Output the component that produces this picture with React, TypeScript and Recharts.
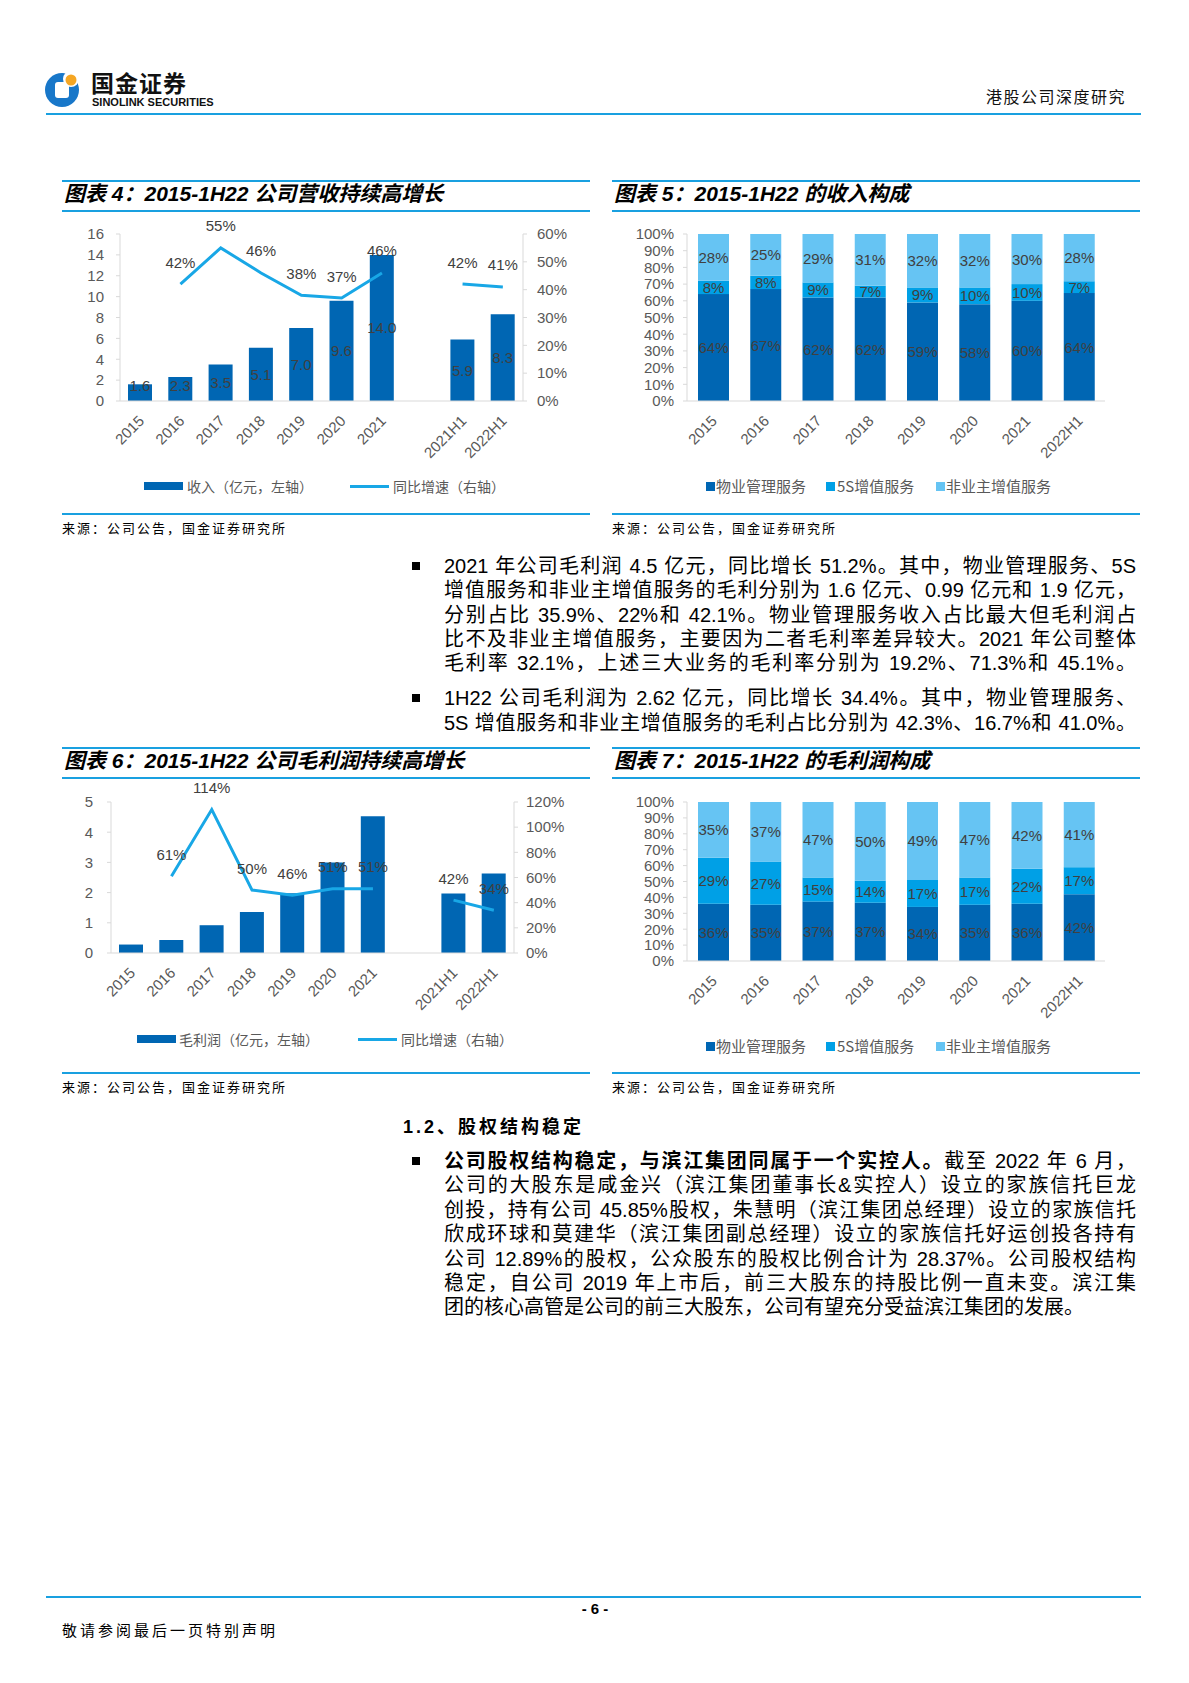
import React from "react"
import { ComposedChart, BarChart, Bar, Line, XAxis, YAxis, LabelList } from "recharts"

const SANS = '"Liberation Sans", Arial, "Noto Sans CJK SC", sans-serif'
const CJK = '"Noto Sans CJK SC", "Liberation Sans", sans-serif'

const BLUE = "#0066B3"
const MID = "#00A0E6"
const LIGHT = "#66C4F3"
const GROWTH = "#18A7E6"
const RULE = "#19A0E0"
const AXIS = "#d9d9d9"
const TICK = "#595959"
const LABEL = "#404040"

// 图表4 / 图表6 categories (blank slot between 2021 and 2021H1)
const growthCats = ["2015", "2016", "2017", "2018", "2019", "2020", "2021", " ", "2021H1", "2022H1"]
const revenue = [1.6, 2.3, 3.5, 5.1, 7.0, 9.6, 14.0, null, 5.9, 8.3]
const revenueYoY = [null, 0.42, 0.55, 0.46, 0.38, 0.37, 0.46, null, 0.42, 0.41]
const grossProfit = [0.28, 0.43, 0.92, 1.36, 1.98, 3.0, 4.53, null, 1.97, 2.63]
const grossProfitYoY = [null, 0.61, 1.14, 0.5, 0.46, 0.51, 0.51, null, 0.42, 0.34]

// 图表5 / 图表7 mix (%)
const mixCats = ["2015", "2016", "2017", "2018", "2019", "2020", "2021", "2022H1"]
const mixNames = ["物业管理服务", "5S增值服务", "非业主增值服务"]
const revPropertyMgmt = [64, 67, 62, 62, 59, 58, 60, 64]
const rev5S = [8, 8, 9, 7, 9, 10, 10, 7]
const revNonOwner = [28, 25, 29, 31, 32, 32, 30, 28]
const gpPropertyMgmt = [36, 35, 37, 37, 34, 35, 36, 42]
const gp5S = [29, 27, 15, 14, 17, 17, 22, 17]
const gpNonOwner = [35, 37, 47, 50, 49, 47, 42, 41]

const revRows = growthCats.map((name, i) => ({ name, v: revenue[i], g: revenueYoY[i] }))
const gpRows = growthCats.map((name, i) => ({ name, v: grossProfit[i], g: grossProfitYoY[i] }))
const revMixRows = mixCats.map((name, i) => ({ name, a: revPropertyMgmt[i], b: rev5S[i], c: revNonOwner[i] }))
const gpMixRows = mixCats.map((name, i) => ({ name, a: gpPropertyMgmt[i], b: gp5S[i], c: gpNonOwner[i] }))

const pct = (v: number) => `${Math.round(v * 100)}%`

function AngledTick(props: any) {
  const { x, y, payload } = props
  const ax = x + 1
  const ay = y + 17
  return (
    <text
      x={ax}
      y={ay}
      transform={`rotate(-45 ${ax} ${ay})`}
      textAnchor="end"
      dominantBaseline="central"
      fontSize={15}
      fill={TICK}
      fontFamily={SANS}
    >
      {payload.value}
    </text>
  )
}

// label drawn above a line point
const topLabel = (vals: (number | null)[], lift: number) => (p: any) => {
  const v = p.index != null ? vals[p.index] : p.value
  if (v == null) return null
  const x = p.viewBox?.x ?? p.x
  const y = p.viewBox?.y ?? p.y
  return (
    <text x={x} y={y - lift} textAnchor="middle" dominantBaseline="central" fontSize={15} fill={LABEL} fontFamily={SANS}>
      {pct(v)}
    </text>
  )
}

// label in the middle of a bar (kept off the axis for short bars)
const midLabel = (fmt: (v: number) => string, lookup?: number[], minLift = 0) => (p: any) => {
  let v = lookup && p.index != null ? lookup[p.index] : p.value
  if (Array.isArray(v)) v = v[1] - v[0]
  if (v == null) return null
  const vb = p.viewBox ?? p
  const bottom = vb.y + vb.height
  let cy = vb.y + vb.height / 2
  if (minLift) cy = Math.min(cy, bottom - minLift)
  return (
    <text x={vb.x + vb.width / 2} y={cy} textAnchor="middle" dominantBaseline="central" fontSize={15} fill={LABEL} fontFamily={SANS}>
      {fmt(v)}
    </text>
  )
}

function Frame({ left, top, bottom, title }: { left: number; top: number; bottom: number; title: string }) {
  const w = 528
  return (
    <>
      <div style={{ position: "absolute", left, top: top - 1, width: w, height: 2, background: RULE }} />
      <div
        style={{
          position: "absolute",
          left: left + 2,
          top: top,
          height: 26,
          lineHeight: "26px",
          fontSize: 21,
          fontWeight: 700,
          fontStyle: "italic",
          fontFamily: SANS,
          color: "#000",
          whiteSpace: "nowrap",
        }}
      >
        {title}
      </div>
      <div style={{ position: "absolute", left, top: top + 29, width: w, height: 1.5, background: RULE }} />
      <div style={{ position: "absolute", left, top: bottom - 1, width: w, height: 2, background: RULE }} />
      <div
        style={{
          position: "absolute",
          left,
          top: bottom + 5,
          height: 18,
          lineHeight: "18px",
          fontSize: 13,
          letterSpacing: 2,
          fontFamily: CJK,
          color: "#000",
          whiteSpace: "nowrap",
        }}
      >
        来源：公司公告，国金证券研究所
      </div>
    </>
  )
}

function GrowthLegend({ y, barX, barText, lineX, lineText, barLabel }: any) {
  const txt = { position: "absolute" as const, top: y - 10, height: 20, lineHeight: "20px", fontSize: 14, color: TICK, fontFamily: CJK, whiteSpace: "nowrap" as const }
  return (
    <>
      <div style={{ position: "absolute", left: barX, top: y - 4, width: 39, height: 8, background: BLUE }} />
      <div style={{ ...txt, left: barText }}>{barLabel}</div>
      <div style={{ position: "absolute", left: lineX, top: y - 1.5, width: 39, height: 3, background: GROWTH }} />
      <div style={{ ...txt, left: lineText }}>同比增速（右轴）</div>
    </>
  )
}

function MixLegend({ y }: { y: number }) {
  const colors = [BLUE, MID, LIGHT]
  const sq = [706, 826, 936]
  const tx = [716, 837, 946]
  return (
    <>
      {mixNames.map((n, i) => (
        <React.Fragment key={n}>
          <div style={{ position: "absolute", left: sq[i], top: y - 4, width: 9, height: 9, background: colors[i] }} />
          <div
            style={{
              position: "absolute",
              left: tx[i],
              top: y - 10,
              height: 20,
              lineHeight: "20px",
              fontSize: 15,
              color: TICK,
              fontFamily: CJK,
              whiteSpace: "nowrap",
            }}
          >
            {n}
          </div>
        </React.Fragment>
      ))}
    </>
  )
}

const TOP = 31
const XH = 72

function GrowthChart({ rows, yoy, leftMax, leftTicks, rightMax, rightTicks, plotH, leftW, rightW, barSize, valueLabels, leftMargin, rightMargin }: any) {
  return (
    <ComposedChart width={528} height={TOP + plotH + XH} data={rows} margin={{ top: TOP, right: 0, bottom: 0, left: 0 }}>
      <XAxis
        dataKey="name"
        interval={0}
        height={XH}
        tickLine={false}
        tickSize={0}
        tickMargin={0}
        axisLine={{ stroke: AXIS }}
        tick={<AngledTick />}
      />
      <YAxis
        yAxisId="l"
        width={leftW}
        domain={[0, leftMax]}
        ticks={leftTicks}
        interval={0}
        axisLine={{ stroke: AXIS }}
        tickLine={{ stroke: AXIS }}
        tickSize={4}
        tickMargin={leftMargin}
        tick={{ fontSize: 15, fill: TICK, fontFamily: SANS }}
      />
      <YAxis
        yAxisId="r"
        orientation="right"
        width={rightW}
        domain={[0, rightMax]}
        ticks={rightTicks}
        interval={0}
        tickFormatter={pct}
        axisLine={{ stroke: AXIS }}
        tickLine={{ stroke: AXIS }}
        tickSize={4}
        tickMargin={rightMargin}
        tick={{ fontSize: 15, fill: TICK, fontFamily: SANS, textAnchor: "start" }}
      />
      <Bar yAxisId="l" dataKey="v" fill={BLUE} barSize={barSize} isAnimationActive={false}>
        {valueLabels && <LabelList content={midLabel((v) => v.toFixed(1), undefined, 16)} />}
      </Bar>
      <Line
        yAxisId="r"
        type="linear"
        dataKey="g"
        stroke={GROWTH}
        strokeWidth={3}
        dot={false}
        activeDot={false}
        connectNulls={false}
        isAnimationActive={false}
      >
        <LabelList content={topLabel(yoy, 22)} />
      </Line>
    </ComposedChart>
  )
}

function MixChart({ rows, a, b, c, plotH }: any) {
  const ticks = [0, 0.1, 0.2, 0.3, 0.4, 0.5, 0.6, 0.7, 0.8, 0.9, 1]
  return (
    <BarChart width={528} height={TOP + plotH + XH} data={rows} stackOffset="expand" margin={{ top: TOP, right: 35, bottom: 0, left: 0 }}>
      <XAxis
        dataKey="name"
        interval={0}
        height={XH}
        tickLine={false}
        tickSize={0}
        tickMargin={0}
        axisLine={{ stroke: AXIS }}
        tick={<AngledTick />}
      />
      <YAxis
        width={75}
        domain={[0, 1]}
        ticks={ticks}
        interval={0}
        tickFormatter={pct}
        axisLine={{ stroke: AXIS }}
        tickLine={{ stroke: AXIS }}
        tickSize={4}
        tickMargin={9}
        tick={{ fontSize: 15, fill: TICK, fontFamily: SANS }}
      />
      <Bar dataKey="a" stackId="s" fill={BLUE} barSize={31} isAnimationActive={false}>
        <LabelList content={midLabel((v) => `${v}%`, a)} />
      </Bar>
      <Bar dataKey="b" stackId="s" fill={MID} barSize={31} isAnimationActive={false}>
        <LabelList content={midLabel((v) => `${v}%`, b)} />
      </Bar>
      <Bar dataKey="c" stackId="s" fill={LIGHT} barSize={31} isAnimationActive={false}>
        <LabelList content={midLabel((v) => `${v}%`, c)} />
      </Bar>
    </BarChart>
  )
}

function BodyLine({ top, left = 444, children, last = false }: any) {
  return (
    <div
      style={{
        position: "absolute",
        left,
        top: top - 12,
        width: 692,
        height: 24,
        lineHeight: "24px",
        fontSize: 20,
        fontFamily: SANS,
        color: "#000",
        textAlign: "justify",
        textAlignLast: last ? "left" : "justify",
      }}
    >
      {children}
    </div>
  )
}

function Bullet({ y }: { y: number }) {
  return <div style={{ position: "absolute", left: 412, top: y - 4, width: 8, height: 8, background: "#000" }} />
}

const para1 = [
  "2021 年公司毛利润 4.5 亿元，同比增长 51.2%。其中，物业管理服务、5S",
  "增值服务和非业主增值服务的毛利分别为 1.6 亿元、0.99 亿元和 1.9 亿元，",
  "分别占比 35.9%、22%和 42.1%。物业管理服务收入占比最大但毛利润占",
  "比不及非业主增值服务，主要因为二者毛利率差异较大。2021 年公司整体",
  "毛利率 32.1%，上述三大业务的毛利率分别为 19.2%、71.3%和 45.1%。",
]
const para2 = [
  "1H22 公司毛利润为 2.62 亿元，同比增长 34.4%。其中，物业管理服务、",
  "5S 增值服务和非业主增值服务的毛利占比分别为 42.3%、16.7%和 41.0%。",
]
const para3 = [
  "公司的大股东是咸金兴（滨江集团董事长&实控人）设立的家族信托巨龙",
  "创投，持有公司 45.85%股权，朱慧明（滨江集团总经理）设立的家族信托",
  "欣成环球和莫建华（滨江集团副总经理）设立的家族信托好运创投各持有",
  "公司 12.89%的股权，公众股东的股权比例合计为 28.37%。公司股权结构",
  "稳定，自公司 2019 年上市后，前三大股东的持股比例一直未变。滨江集",
  "团的核心高管是公司的前三大股东，公司有望充分受益滨江集团的发展。",
]

export default function App() {
  return (
    <div style={{ position: "absolute", left: 0, top: 0, width: 1189, height: 1683, background: "#fff", overflow: "hidden", fontFamily: SANS }}>
      {/* header */}
      <svg style={{ position: "absolute", left: 44, top: 70 }} width={40} height={40}>
        <circle cx={18} cy={20} r={17} fill="#1877C9" />
        <rect x={11} y={12} width={14} height={16} rx={3} fill="#fff" />
        <circle cx={27} cy={9} r={8} fill="#fff" />
        <circle cx={27} cy={10} r={5.5} fill="#F5A623" />
      </svg>
      <div style={{ position: "absolute", left: 91, top: 69, height: 26, lineHeight: "26px", fontSize: 23, fontWeight: 700, fontFamily: CJK, color: "#111", letterSpacing: 1 }}>
        国金证券
      </div>
      <div style={{ position: "absolute", left: 92, top: 96, height: 12, lineHeight: "12px", fontSize: 11, fontWeight: 700, fontFamily: SANS, color: "#111", whiteSpace: "nowrap" }}>
        SINOLINK SECURITIES
      </div>
      <div style={{ position: "absolute", left: 986, top: 85, height: 22, lineHeight: "22px", fontSize: 16, letterSpacing: 1.5, fontFamily: CJK, color: "#111", whiteSpace: "nowrap" }}>
        港股公司深度研究
      </div>
      <div style={{ position: "absolute", left: 46, top: 113, width: 1095, height: 2, background: RULE }} />

      {/* 图表4 */}
      <Frame left={62} top={181} bottom={514} title="图表 4：2015-1H22 公司营收持续高增长" />
      <div style={{ position: "absolute", left: 62, top: 234 - TOP }}>
        <GrowthChart
          rows={revRows}
          yoy={revenueYoY}
          leftMax={16}
          leftTicks={[0, 2, 4, 6, 8, 10, 12, 14, 16]}
          rightMax={0.6}
          rightTicks={[0, 0.1, 0.2, 0.3, 0.4, 0.5, 0.6]}
          plotH={167}
          leftW={58}
          rightW={67}
          barSize={24}
          valueLabels
          leftMargin={12}
          rightMargin={10}
        />
      </div>
      <GrowthLegend y={486} barX={144} barText={187} lineX={350} lineText={393} barLabel="收入（亿元，左轴）" />

      {/* 图表5 */}
      <Frame left={612} top={181} bottom={514} title="图表 5：2015-1H22 的收入构成" />
      <div style={{ position: "absolute", left: 612, top: 234 - TOP }}>
        <MixChart rows={revMixRows} a={revPropertyMgmt} b={rev5S} c={revNonOwner} plotH={167} />
      </div>
      <MixLegend y={486} />

      {/* text block 1 */}
      <Bullet y={566} />
      {para1.map((t, i) => (
        <BodyLine key={t} top={566 + i * 24.3}>
          {t}
        </BodyLine>
      ))}
      <Bullet y={698} />
      {para2.map((t, i) => (
        <BodyLine key={t} top={698 + i * 25}>
          {t}
        </BodyLine>
      ))}

      {/* 图表6 */}
      <Frame left={62} top={748} bottom={1073} title="图表 6：2015-1H22 公司毛利润持续高增长" />
      <div style={{ position: "absolute", left: 62, top: 802 - TOP }}>
        <GrowthChart
          rows={gpRows}
          yoy={grossProfitYoY}
          leftMax={5}
          leftTicks={[0, 1, 2, 3, 4, 5]}
          rightMax={1.2}
          rightTicks={[0, 0.2, 0.4, 0.6, 0.8, 1.0, 1.2]}
          plotH={151}
          leftW={49}
          rightW={76}
          barSize={24}
          valueLabels={false}
          leftMargin={14}
          rightMargin={8}
        />
      </div>
      <GrowthLegend y={1039} barX={137} barText={179} lineX={358} lineText={401} barLabel="毛利润（亿元，左轴）" />

      {/* 图表7 */}
      <Frame left={612} top={748} bottom={1073} title="图表 7：2015-1H22 的毛利润构成" />
      <div style={{ position: "absolute", left: 612, top: 802 - TOP }}>
        <MixChart rows={gpMixRows} a={gpPropertyMgmt} b={gp5S} c={gpNonOwner} plotH={159} />
      </div>
      <MixLegend y={1046} />

      {/* section 1.2 */}
      <div style={{ position: "absolute", left: 403, top: 1115, height: 24, lineHeight: "24px", fontSize: 18, fontWeight: 700, letterSpacing: 3, fontFamily: SANS, color: "#000", whiteSpace: "nowrap" }}>
        1.2、股权结构稳定
      </div>
      <Bullet y={1161} />
      <BodyLine top={1161}>
        <b>公司股权结构稳定，与滨江集团同属于一个实控人。</b>截至 2022 年 6 月，
      </BodyLine>
      {para3.map((t, i) => (
        <BodyLine key={t} top={1161 + (i + 1) * 24.4} last={i === para3.length - 1}>
          {t}
        </BodyLine>
      ))}

      {/* footer */}
      <div style={{ position: "absolute", left: 46, top: 1596, width: 1095, height: 2, background: RULE }} />
      <div style={{ position: "absolute", left: 560, top: 1599, width: 70, height: 20, lineHeight: "20px", textAlign: "center", fontSize: 15, fontWeight: 700, fontFamily: SANS, color: "#000" }}>
        - 6 -
      </div>
      <div style={{ position: "absolute", left: 62, top: 1619, height: 22, lineHeight: "22px", fontSize: 15, letterSpacing: 3, fontFamily: CJK, color: "#000", whiteSpace: "nowrap" }}>
        敬请参阅最后一页特别声明
      </div>
    </div>
  )
}
